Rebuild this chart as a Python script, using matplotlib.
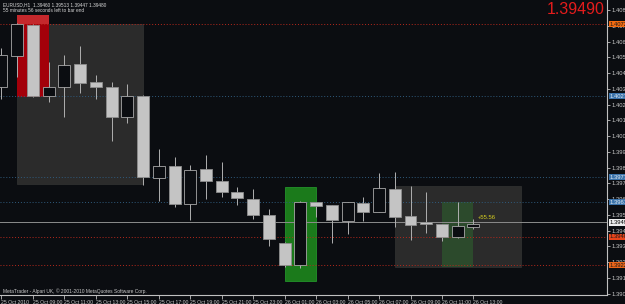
import matplotlib
matplotlib.use('Agg')
import matplotlib.pyplot as plt
from matplotlib.patches import Rectangle

plt.rcParams['font.family'] = ['Liberation Sans', 'DejaVu Sans']

BG = '#0b0d11'

# EURUSD H1 bars, 25 Oct 2010 07:00 .. 26 Oct 2010 13:00
opens = [1.40331, 1.40523, 1.40716, 1.40275, 1.40331, 1.40474, 1.40362, 1.40331,
         1.40145, 1.40275, 1.39766, 1.39841, 1.39605, 1.39822, 1.39747, 1.39679,
         1.39636, 1.39536, 1.39363, 1.39226, 1.39617, 1.39598, 1.39499, 1.39611,
         1.39555, 1.39698, 1.39530, 1.39493, 1.39480, 1.39400, 1.39460]
highs = [1.40573, 1.40728, 1.40725, 1.40486, 1.40530, 1.40585, 1.40405, 1.40362,
         1.40350, 1.40280, 1.39946, 1.39896, 1.39847, 1.39909, 1.39865, 1.39710,
         1.39698, 1.39574, 1.39370, 1.39623, 1.39620, 1.39600, 1.39620, 1.39648,
         1.39797, 1.39803, 1.39716, 1.39679, 1.39483, 1.39617, 1.39513]
lows = [1.40256, 1.40393, 1.40269, 1.40238, 1.40145, 1.40294, 1.40256, 1.39996,
        1.40107, 1.39723, 1.39623, 1.39586, 1.39505, 1.39636, 1.39648, 1.39598,
        1.39511, 1.39344, 1.39214, 1.39207, 1.39524, 1.39363, 1.39418, 1.39499,
        1.39555, 1.39462, 1.39381, 1.39425, 1.39375, 1.39394, 1.39447]
closes = [1.40530, 1.40722, 1.40275, 1.40331, 1.40467, 1.40356, 1.40331, 1.40145,
          1.40275, 1.39772, 1.39841, 1.39605, 1.39816, 1.39747, 1.39679, 1.39642,
          1.39536, 1.39387, 1.39226, 1.39617, 1.39592, 1.39505, 1.39617, 1.39555,
          1.39704, 1.39524, 1.39474, 1.39480, 1.39400, 1.39468, 1.39480]

time_ticks = list(range(0, 31, 2))
time_labels = ['25 Oct 2010', '25 Oct 09:00', '25 Oct 11:00', '25 Oct 13:00',
               '25 Oct 15:00', '25 Oct 17:00', '25 Oct 19:00', '25 Oct 21:00',
               '25 Oct 23:00', '26 Oct 01:00', '26 Oct 03:00', '26 Oct 05:00',
               '26 Oct 07:00', '26 Oct 09:00', '26 Oct 11:00', '26 Oct 13:00']

price_ticks = [1.40809, 1.40711, 1.40613, 1.40516, 1.40418, 1.40320, 1.40222,
               1.40124, 1.40027, 1.39929, 1.39831, 1.39733, 1.39635, 1.39538,
               1.39440, 1.39342, 1.39244, 1.39146, 1.39049]

# horizontal levels
red_levels = [1.40722, 1.39400, 1.39226]
red_label_colors = ['#f26a10', '#e8441a', '#ea6418']
blue_levels = [1.40275, 1.39772, 1.39617]
bid = 1.39490

# zones: (from bar, to bar, low price, high price)
grey_zones = [(1, 9, 1.39729, 1.40722), (25, 33, 1.39214, 1.39716)]
red_zone = (1, 3, 1.40269, 1.40778)
green_zones = [(18, 20, 1.39127, 1.39710)]
green_inner = (28, 30, 1.39214, 1.39617)

fig = plt.figure(figsize=(6.25, 3.04), dpi=100, facecolor=BG)
ax = fig.add_axes([0, 1 - 295 / 304, 607 / 625, 295 / 304], facecolor=BG)

# zones
for x0, x1, lo, hi in grey_zones:
    ax.add_patch(Rectangle((x0, lo), x1 - x0, hi - lo, facecolor='#2b2b2b',
                           edgecolor='#333333', lw=0.5, zorder=1))
x0, x1, lo, hi = red_zone
ax.add_patch(Rectangle((x0, lo), x1 - x0, hi - lo, facecolor='#a3000a',
                       edgecolor='none', zorder=1.5))
top_grey = grey_zones[0][3]
ax.add_patch(Rectangle((x0, top_grey), x1 - x0, hi - top_grey, facecolor='#c4282c',
                       edgecolor='none', zorder=1.6))
for x0, x1, lo, hi in green_zones:
    ax.add_patch(Rectangle((x0, lo), x1 - x0, hi - lo, facecolor='#1b7a1b',
                           edgecolor='#23922a', lw=0.6, zorder=1.5))
x0, x1, lo, hi = green_inner
ax.add_patch(Rectangle((x0, lo), x1 - x0, hi - lo, facecolor='#2c4a2c',
                       edgecolor='none', zorder=1.5))

# levels
for lv in red_levels:
    ax.axhline(lv, color='#b8281c', lw=0.7, ls=(0, (1, 2)), zorder=2)
for lv in blue_levels:
    ax.axhline(lv, color='#2f5a7c', lw=0.7, ls=(0, (1, 2)), zorder=2)
ax.axhline(bid, color='#8c8c8c', lw=0.7, zorder=2)

# candles
xs = list(range(len(opens)))
ax.vlines(xs, lows, highs, color='#b0b0b0', lw=0.7, zorder=3)
for x, o, c in zip(xs, opens, closes):
    bottom = min(o, c)
    height = max(abs(c - o), 0.00002)
    if c >= o:
        fc, ec = BG, '#a8a8a8'
    else:
        fc, ec = '#c4c4c4', '#8e8e8e'
    ax.bar(x, height, bottom=bottom, width=0.76, color=fc, edgecolor=ec,
           linewidth=0.6, zorder=4)

ax.set_xlim(-0.095, 38.49)
ax.set_ylim(1.39040, 1.40871)

# axes styling
for s in ['left', 'top']:
    ax.spines[s].set_visible(False)
for s in ['right', 'bottom']:
    ax.spines[s].set_color('#c0c0c0')
    ax.spines[s].set_linewidth(0.8)

ax.yaxis.tick_right()
ax.set_yticks(price_ticks)
ax.set_yticklabels([f'{v:.5f}' for v in price_ticks])
ax.tick_params(axis='y', length=2, width=0.6, color='#c0c0c0', labelcolor='#c8c8c8',
               labelsize=4.2, pad=1)
ax.set_xticks(time_ticks)
ax.set_xticklabels(time_labels)
for lbl in ax.get_xticklabels():
    lbl.set_horizontalalignment('left')
ax.tick_params(axis='x', length=3, width=0.6, color='#c0c0c0', labelcolor='#c8c8c8',
               labelsize=3.7, pad=0.5)

# price labels on the scale
ytr = ax.get_yaxis_transform()
for lv, col in zip(red_levels, red_label_colors):
    ax.text(1.004, lv, f'{lv:.5f}', transform=ytr, fontsize=4.2, color='#1a1a1a',
            va='center', ha='left', clip_on=False, zorder=6,
            bbox=dict(boxstyle='square,pad=0.15', fc=col, ec='none'))
for lv in blue_levels:
    ax.text(1.004, lv, f'{lv:.5f}', transform=ytr, fontsize=4.2, color='#dfe8f0',
            va='center', ha='left', clip_on=False, zorder=6,
            bbox=dict(boxstyle='square,pad=0.15', fc='#3a72aa', ec='none'))
ax.text(1.004, bid, f'{bid:.5f}', transform=ytr, fontsize=4.2, color='#000000',
        va='center', ha='left', clip_on=False, zorder=6,
        bbox=dict(boxstyle='square,pad=0.15', fc='#ececec', ec='none'))

# texts
fig.text(3 / 625, 1 - 5 / 304,
         f'EURUSD,H1  {opens[-1]:.5f} {highs[-1]:.5f} {lows[-1]:.5f} {closes[-1]:.5f}',
         fontsize=3.4, color='#d8d8d8', va='center', ha='left')
fig.text(3 / 625, 1 - 11 / 304, '55 minutes 56 seconds left to bar end',
         fontsize=3.4, color='#d8d8d8', va='center', ha='left')
fig.text(605 / 625, 1 - 10 / 304, f'{bid:.5f}', fontsize=11.5, color='#e41c1c',
         va='center', ha='right')
ax.text(30.3, 1.39518, '+55.56', fontsize=4.2, color='#d8d020', va='center',
        ha='left', zorder=6)
ax.text(3 / 607, 4 / 295, 'MetaTrader - Alpari UK, \u00a9 2001-2010 MetaQuotes Software Corp.',
        transform=ax.transAxes, fontsize=3.5, color='#c8c8c8', va='center', ha='left')

fig.savefig('out.png', dpi=100, facecolor=BG)
